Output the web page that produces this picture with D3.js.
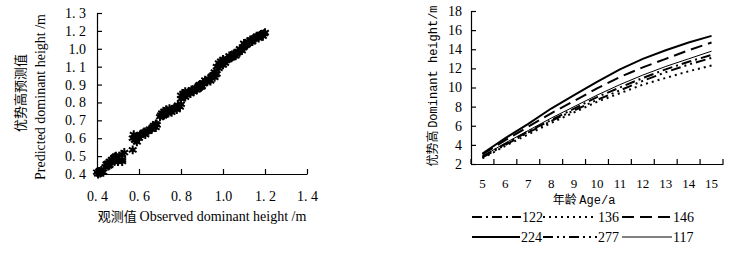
<!DOCTYPE html>
<html><head><meta charset="utf-8">
<script src="https://cdn.jsdelivr.net/npm/d3@7"></script>
<style>body{margin:0;background:#fff}svg{display:block}</style>
</head><body>
<script>
// ---------- Left chart data ----------
const scatterObs = [0.40,0.405,0.41,0.415,0.42,0.42,0.43,0.44,0.45,0.45,0.46,0.46,0.47,0.47,0.48,0.49,0.49,0.50,0.50,0.52,0.52,0.53,0.52,0.57,
0.57,0.575,0.58,0.59,0.60,0.59,0.61,0.62,0.63,0.64,0.65,0.66,0.67,0.68,0.68,
0.70,0.71,0.72,0.72,0.73,0.74,0.75,0.76,0.77,0.78,0.79,0.80,
0.80,0.80,0.81,0.82,0.82,0.83,0.84,0.85,0.86,0.87,0.88,0.89,0.90,0.91,0.92,0.93,0.94,0.95,0.96,0.96,0.97,
0.97,0.98,0.98,0.99,1.00,1.00,1.01,1.02,1.03,1.04,1.05,1.06,1.07,1.08,1.09,1.10,1.10,1.11,1.12,1.13,1.14,1.15,1.16,1.17,1.18,1.19,1.20,1.195,
0.605,0.625,0.645,0.665,0.685,0.705,0.715,0.735,0.745,0.755,0.765,0.785,0.795,0.815,0.825,0.835,0.845,0.855,0.865,0.875,0.885,0.895,0.905,0.915,0.925,0.935,0.945,0.955,0.965,
0.985,0.995,1.005,1.015,1.025,1.035,1.045,1.055,1.065,1.075,1.085,1.095,1.105,1.115,1.125,1.135,1.145,1.155,1.165,1.175,1.185,0.445,0.455,0.475,0.485,0.495];
const scatterPred = [0.41,0.40,0.415,0.405,0.41,0.42,0.41,0.44,0.46,0.45,0.47,0.45,0.46,0.48,0.49,0.50,0.48,0.49,0.47,0.51,0.48,0.52,0.47,0.535,
0.60,0.62,0.59,0.61,0.60,0.58,0.62,0.63,0.62,0.64,0.65,0.65,0.67,0.66,0.68,
0.72,0.74,0.75,0.73,0.76,0.74,0.75,0.76,0.77,0.76,0.78,0.79,
0.82,0.84,0.85,0.83,0.86,0.85,0.86,0.87,0.86,0.88,0.88,0.90,0.89,0.91,0.92,0.93,0.92,0.95,0.94,0.97,0.96,
1.00,1.02,0.99,1.03,1.01,1.04,1.02,1.04,1.06,1.05,1.07,1.06,1.08,1.10,1.09,1.11,1.13,1.12,1.14,1.15,1.14,1.16,1.17,1.16,1.18,1.17,1.19,1.185,
0.615,0.635,0.64,0.66,0.675,0.73,0.725,0.745,0.765,0.745,0.765,0.785,0.775,0.835,0.845,0.855,0.85,0.865,0.875,0.87,0.895,0.885,0.905,0.925,0.915,0.925,0.945,0.955,0.955,
1.01,1.015,1.025,1.035,1.045,1.05,1.055,1.075,1.07,1.085,1.095,1.105,1.12,1.125,1.135,1.14,1.155,1.16,1.165,1.175,1.18,0.455,0.445,0.475,0.495,0.49];
const leftXTicks = [0.4,0.6,0.8,1.0,1.2,1.4];
const leftXLabels = ["0. 4","0. 6","0. 8","1.0","1. 2","1. 4"];
const leftYTicks = [0.4,0.5,0.6,0.7,0.8,0.9,1.0,1.1,1.2,1.3];
const leftYLabels = ["0. 4","0. 5","0. 6","0. 7","0. 8","0. 9","1. 1","1.0","1. 2","1. 3"];

// ---------- Right chart data ----------
const ages = [5,6,7,8,9,10,11,12,13,14,15];
const s122 = [2.8,4.1,5.4,6.6,7.8,9.0,10.0,11.0,11.9,12.7,13.4];
const s136 = [2.6,3.9,5.1,6.3,7.4,8.5,9.4,10.3,11.0,11.7,12.3];
const s146 = [3.0,4.5,5.9,7.3,8.6,9.9,11.1,12.1,13.0,13.9,14.7];
const s224 = [3.1,4.7,6.2,7.8,9.2,10.6,11.9,13.0,13.9,14.7,15.4];
const s277 = [2.7,4.0,5.3,6.5,7.6,8.7,9.7,10.7,11.6,12.4,13.1];
const s117 = [2.8,4.2,5.5,6.8,8.0,9.2,10.3,11.3,12.2,13.0,13.8];
const seriesNames = ["122","136","146","224","277","117"];
const rightYTicks = [2,4,6,8,10,12,14,16,18];

const serif = "'Liberation Serif','Times New Roman',serif";
const mono = "'Liberation Mono','DejaVu Sans Mono',monospace";
const cjk = "'Noto Sans CJK SC',sans-serif";

const svg = d3.select("body").append("svg").attr("width",737).attr("height",257);

// ===== Left chart =====
const xL = d3.scaleLinear([0.4,1.4],[97,307]);
const yL = d3.scaleLinear([0.4,1.3],[174,13]);

const gxL = svg.append("g").attr("transform","translate(0,174)")
  .call(d3.axisBottom(xL).tickValues(leftXTicks).tickSizeInner(-5).tickSizeOuter(0).tickPadding(17)
    .tickFormat((d,i)=>leftXLabels[i]));
const gyL = svg.append("g").attr("transform","translate(97,0)")
  .call(d3.axisLeft(yL).tickValues(leftYTicks).tickSizeInner(-5).tickSizeOuter(0).tickPadding(11)
    .tickFormat((d,i)=>leftYLabels[i]));
[gxL,gyL].forEach(g=>{
  g.selectAll("path,line").attr("stroke","#000").attr("stroke-width",1.2);
  g.selectAll("text").attr("font-family",serif).attr("font-size",14).attr("fill","#000");
});

const star = d3.symbol().type(d3.symbolAsterisk).size(55);
svg.append("g").selectAll("path").data(scatterObs).join("path")
  .attr("transform",(d,i)=>`translate(${xL(d)},${yL(scatterPred[i])})`)
  .attr("d",star).attr("fill","none").attr("stroke","#000").attr("stroke-width",2);

// left titles
const xt = svg.append("text").attr("x",202).attr("y",221).attr("text-anchor","middle").attr("fill","#000");
xt.append("tspan").attr("font-family",cjk).attr("font-size",13).text("观测值 ");
xt.append("tspan").attr("font-family",serif).attr("font-size",14).text("Observed dominant height /m");

svg.append("text").attr("transform","translate(25,93) rotate(-90)").attr("text-anchor","middle")
  .attr("font-family",cjk).attr("font-size",13).attr("fill","#000").text("优势高预测值");
svg.append("text").attr("transform","translate(45,97) rotate(-90)").attr("text-anchor","middle")
  .attr("font-family",serif).attr("font-size",14).attr("fill","#000").text("Predicted dominant height /m");

// ===== Right chart =====
const xR = d3.scaleBand(ages,[471,723]);
const yR = d3.scaleLinear([2,18],[164,11]);
const bw = xR.bandwidth();

const gxR = svg.append("g").attr("transform","translate(0,164)")
  .call(d3.axisBottom(xR).tickSize(0).tickPadding(15));
gxR.selectAll("text").attr("font-family",serif).attr("font-size",13).attr("fill","#000");
gxR.select("path").attr("stroke","#000").attr("stroke-width",1.2);
const bounds = ages.map(a=>xR(a)).concat([xR(ages[ages.length-1])+bw]);
svg.append("g").selectAll("line").data(bounds).join("line")
  .attr("x1",d=>d).attr("x2",d=>d).attr("y1",164).attr("y2",159).attr("stroke","#000").attr("stroke-width",1.2);

const gyR = svg.append("g").attr("transform","translate(471,0)")
  .call(d3.axisLeft(yR).tickValues(rightYTicks).tickSizeInner(-5).tickSizeOuter(0).tickPadding(9).tickFormat(d3.format("d")));
gyR.selectAll("path,line").attr("stroke","#000").attr("stroke-width",1.2);
gyR.selectAll("text").attr("font-family",serif).attr("font-size",14).attr("fill","#000");

const styles = {
  "122":{dash:"10,4,2,4",w:2},
  "136":{dash:"2,4",w:2},
  "146":{dash:"12,6",w:2},
  "224":{dash:null,w:2},
  "277":{dash:"10,4,2,4,2,4",w:2},
  "117":{dash:null,w:1}
};
const seriesData = {"122":s122,"136":s136,"146":s146,"224":s224,"277":s277,"117":s117};
const line = d3.line().x((d,i)=>xR(ages[i])+bw/2).y(d=>yR(d));
seriesNames.forEach(n=>{
  svg.append("path").datum(seriesData[n]).attr("d",line).attr("fill","none")
    .attr("stroke","#000").attr("stroke-width",styles[n].w)
    .attr("stroke-dasharray",styles[n].dash);
});

// right titles
const xt2 = svg.append("text").attr("x",584).attr("y",204).attr("text-anchor","middle").attr("fill","#000");
xt2.append("tspan").attr("font-family",cjk).attr("font-size",12).text("年龄 ");
xt2.append("tspan").attr("font-family",mono).attr("font-size",12).text("Age/a");

const yt2 = svg.append("text").attr("transform","translate(437,86) rotate(-90)").attr("text-anchor","middle").attr("fill","#000");
yt2.append("tspan").attr("font-family",cjk).attr("font-size",12).text("优势高 ");
yt2.append("tspan").attr("font-family",mono).attr("font-size",12).text("Dominant height/m");

// legend
const legendPos = [[472,217],[543,217],[622,217],[472,237],[543,237],[622,237]];
const lineLen = [49,54,50,48,54,50];
seriesNames.forEach((n,i)=>{
  const [x,y]=legendPos[i];
  svg.append("line").attr("x1",x).attr("x2",x+lineLen[i]).attr("y1",y).attr("y2",y)
    .attr("stroke","#000").attr("stroke-width",styles[n].w).attr("stroke-dasharray",styles[n].dash);
  svg.append("text").attr("x",x+lineLen[i]+1).attr("y",y+5).attr("font-family",serif).attr("font-size",14)
    .attr("fill","#000").text(n);
});
</script>
</body></html>
